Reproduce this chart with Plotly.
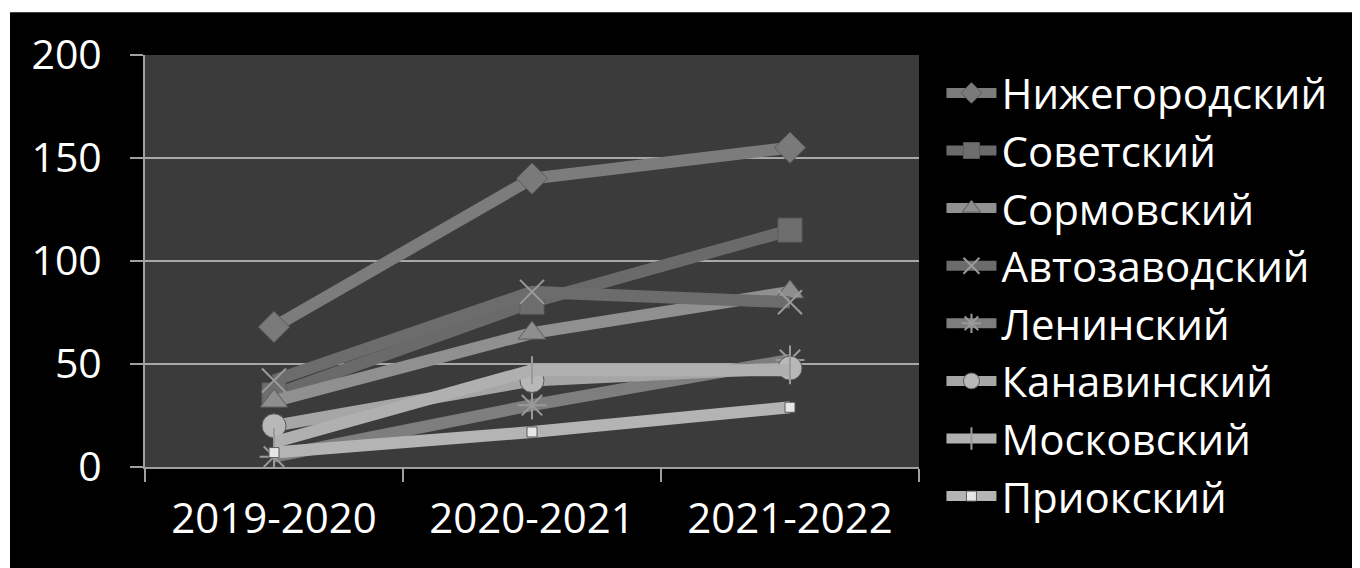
import plotly.graph_objects as go

categories = ["2019-2020", "2020-2021", "2021-2022"]

series_names = ["Нижегородский", "Советский", "Сормовский", "Автозаводский",
                "Ленинский", "Канавинский", "Московский", "Приокский"]

nizhegorodsky = [68, 140, 155]
sovetsky = [35, 80, 115]
sormovsky = [32, 65, 85]
avtozavodsky = [42, 85, 80]
leninsky = [5, 30, 52]
kanavinsky = [20, 42, 48]
moskovsky = [12, 47, 47]
priroksky = [7, 17, 29]

values = [nizhegorodsky, sovetsky, sormovsky, avtozavodsky,
          leninsky, kanavinsky, moskovsky, priroksky]

y_ticks = [0, 50, 100, 150, 200]

line_colors = ["#7c7c7c", "#6a6a6a", "#909090", "#6c6c6c",
               "#7e7e7e", "#a6a6a6", "#b0b0b0", "#b4b4b4"]
marker_colors = ["#7a7a7a", "#6e6e6e", "#8e8e8e", "#8a8a8a",
                 "#8a8a8a", "#b8b8b8", "#b0b0b0", "#e6e6e6"]
symbols = ["diamond", "square", "triangle-up", "x-thin",
           "asterisk", "circle", "line-ns", "square"]
sizes = [24, 24, 24, 24, 24, 24, 20, 10]

fig = go.Figure()
for name, vals, lc, mc, sym, sz in zip(series_names, values, line_colors,
                                       marker_colors, symbols, sizes):
    thin = sym in ("x-thin", "asterisk", "line-ns")
    fig.add_trace(go.Scatter(
        x=categories, y=vals, name=name, mode="lines+markers",
        line=dict(color=lc, width=12),
        marker=dict(symbol=sym, size=sz, color=mc,
                    line=dict(color="#9a9a9a" if thin else "#5a5a5a",
                              width=2 if thin else 1)),
    ))

# white outer border strip (top and left), beyond the page's own margin
fig.add_shape(type="rect", xref="paper", yref="paper",
              x0=-0.3, x1=1.7, y0=1.104, y1=1.3,
              fillcolor="white", line=dict(width=0), layer="below")
fig.add_shape(type="rect", xref="paper", yref="paper",
              x0=-0.3, x1=-0.1744, y0=-0.3, y1=1.3,
              fillcolor="white", line=dict(width=0), layer="below")

fig.update_layout(
    width=1352, height=560,
    margin=dict(l=137, r=441, t=47, b=101, autoexpand=False),
    paper_bgcolor="black",
    plot_bgcolor="#3b3b3b",
    font=dict(family="Open Sans", color="white", size=40),
    showlegend=True,
    legend=dict(x=1.029, y=0.99, xanchor="left", yanchor="top",
                font=dict(size=42, color="white"), maxheight=560,
                bgcolor="rgba(0,0,0,0)", itemwidth=50),
    xaxis=dict(type="category", range=[-0.5, 2.5], showgrid=False,
               showline=True,
               linecolor="#a0a0a0", linewidth=2, ticks="outside",
               tickson="boundaries", ticklen=13, tickcolor="#a0a0a0",
               tickwidth=2, ticklabelstandoff=14,
               tickfont=dict(size=42, color="white")),
    yaxis=dict(range=[0, 200], tickvals=y_ticks, showgrid=True,
               gridcolor="#a8a8a8", gridwidth=2, showline=True,
               linecolor="#a0a0a0", linewidth=2, ticks="outside",
               ticklen=13, tickcolor="#a0a0a0", tickwidth=2,
               ticklabelstandoff=20,
               zeroline=False, tickfont=dict(size=41, color="white")),
)

fig.write_html("out.html")
